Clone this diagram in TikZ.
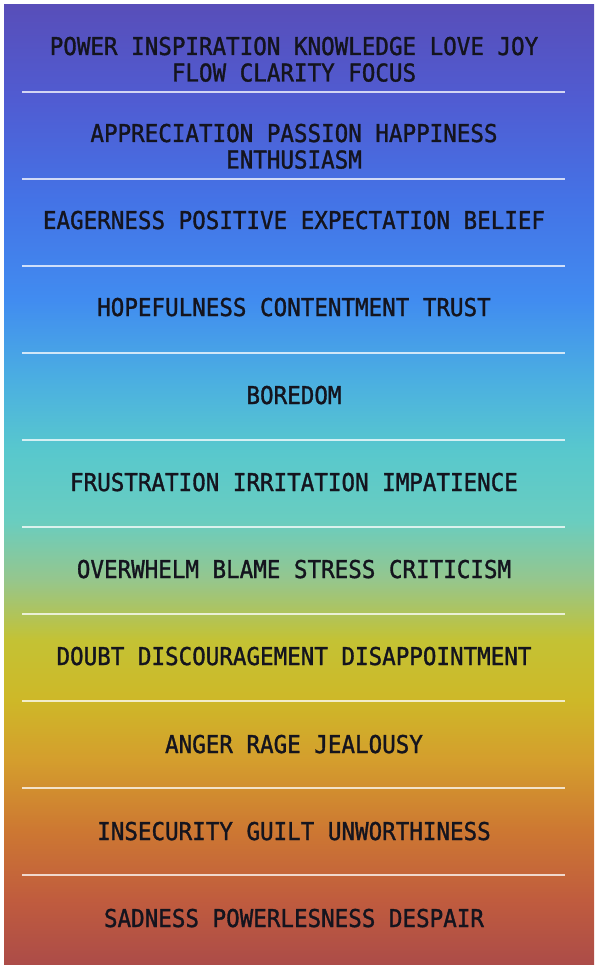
\documentclass[tikz,border=0pt]{standalone}
\usepackage{fontspec}
\newfontfamily\emofont[FakeStretch=0.92,FakeBold=1.3]{DejaVu Sans Mono}
\definecolor{g00}{RGB}{172,76,72}
\definecolor{g07}{RGB}{192,92,62}
\definecolor{g14}{RGB}{205,120,50}
\definecolor{g21}{RGB}{212,158,45}
\definecolor{g27}{RGB}{206,184,40}
\definecolor{g34}{RGB}{196,194,52}
\definecolor{g40}{RGB}{150,198,140}
\definecolor{g46}{RGB}{105,205,192}
\definecolor{g53}{RGB}{88,200,205}
\definecolor{g61}{RGB}{75,175,225}
\definecolor{g69}{RGB}{65,140,240}
\definecolor{g80}{RGB}{68,115,230}
\definecolor{g90}{RGB}{80,92,210}
\definecolor{g100}{RGB}{88,78,185}
\definecolor{inkc}{RGB}{20,20,30}
\pgfdeclareverticalshading{emograd}{100bp}{%
color(0bp)=(g00); color(25bp)=(g00); color(28.35bp)=(g07); color(32bp)=(g14); color(35.65bp)=(g21);
color(38.75bp)=(g27); color(41.875bp)=(g34); color(45bp)=(g40); color(48.125bp)=(g46);
color(51.75bp)=(g53); color(55.4bp)=(g61); color(59.6bp)=(g69); color(64.8bp)=(g80);
color(70bp)=(g90); color(75bp)=(g100); color(100bp)=(g100)}
\tikzset{
  lbl/.style={anchor=base, inner sep=0pt, text=inkc, font=\emofont\fontsize{24.5}{26}\selectfont},
  sep/.style={draw=white, draw opacity=0.75, line width=2pt}
}
\begin{document}
\begin{tikzpicture}[x=1pt,y=-1pt]
\useasboundingbox (0,0) rectangle (600,968);
\shade[shading=emograd] (4,4.5) rectangle (594,964);
% separators
\foreach \i/\yy in {1/92,2/179,3/266,4/353,5/440,6/527,7/614,8/701,9/788,10/875}{
  \coordinate (l\i a) at (22,\yy);
  \coordinate (l\i b) at (565,\yy);
  \draw[sep] (l\i a) -- (l\i b);
}
% labels (baseline = centre + 9)
\node[lbl] (r1a) at (294,55) {POWER INSPIRATION KNOWLEDGE LOVE JOY};
\node[lbl] (r1b) at (294,81.5) {FLOW CLARITY FOCUS};
\node[lbl] (r2a) at (294,142) {APPRECIATION PASSION HAPPINESS};
\node[lbl] (r2b) at (294,168.5) {ENTHUSIASM};
\node[lbl] (r3) at (294,229) {EAGERNESS POSITIVE EXPECTATION BELIEF};
\node[lbl] (r4) at (294,316) {HOPEFULNESS CONTENTMENT TRUST};
\node[lbl] (r5) at (294,404) {BOREDOM};
\node[lbl] (r6) at (294,491) {FRUSTRATION IRRITATION IMPATIENCE};
\node[lbl] (r7) at (294,578) {OVERWHELM BLAME STRESS CRITICISM};
\node[lbl] (r8) at (294,665) {DOUBT DISCOURAGEMENT DISAPPOINTMENT};
\node[lbl] (r9) at (294,753) {ANGER RAGE JEALOUSY};
\node[lbl] (r10) at (294,840) {INSECURITY GUILT UNWORTHINESS};
\node[lbl] (r11) at (294,927) {SADNESS POWERLESNESS DESPAIR};
\end{tikzpicture}
\end{document}
